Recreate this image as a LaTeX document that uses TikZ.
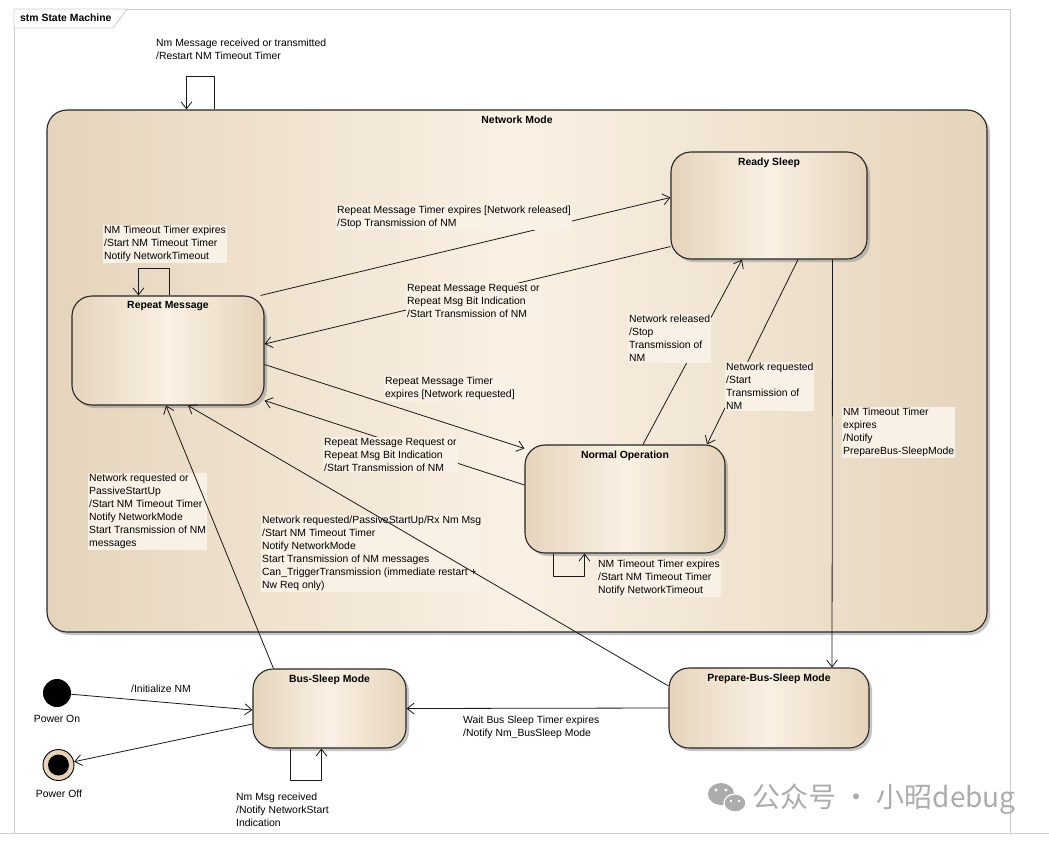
\documentclass[tikz,border=0pt]{standalone}
\usepackage{fontspec}
\setmainfont{Liberation Sans}
\newfontfamily\cjkfont{Noto Sans CJK SC}
\usetikzlibrary{arrows.meta,calc,shadows}

\definecolor{stEdge}{RGB}{229,212,187}
\definecolor{stMid}{RGB}{250,241,228}
\definecolor{lblBg}{RGB}{250,241,230}
\definecolor{frameGray}{RGB}{205,205,205}
\definecolor{wmGray}{RGB}{172,172,172}

\tikzset{
  smstate/.style={rounded corners=20pt, draw=black!85, line width=1.1pt,
    left color=stEdge, right color=stEdge, middle color=stMid,
    drop shadow={shadow xshift=3pt, shadow yshift=-3pt, fill=black!45, opacity=.5}},
  title/.style={font=\fontsize{10.4}{12}\selectfont\bfseries, inner sep=1pt},
  trans/.style={line width=0.8pt, draw=black!90,
    -{Straight Barb[length=7pt,width=11pt,line width=0.8pt]}},
  lbl/.style={anchor=north west, align=left, inner sep=1pt,
    font=\fontsize{10.4}{13}\selectfont},
  lblf/.style={lbl, fill=lblBg},
}

\begin{document}
\begin{tikzpicture}[x=1pt, y=-1pt, line join=round]
    \useasboundingbox (0,0) rectangle (1049,841);
    \fill[white] (0,0) rectangle (1049,841);

    % 外框
    \draw[frameGray, line width=0.8pt] (14,833) -- (14,9) -- (1010,9) -- (1010,833);
    \draw[frameGray, line width=0.8pt] (0,833) -- (1049,833);
    \draw[frameGray, line width=0.8pt, fill=white] (14,9) -- (127,9) -- (113,28) -- (14,28) -- cycle;
    \node[title, anchor=west] (frm) at (19,18) {stm State Machine};

    % 状态
    \node[smstate, minimum width=940pt, minimum height=522pt,
      label={[title, anchor=north, yshift=-5pt]north:Network Mode}] (nm) at (517,371) {};
    \node[smstate, minimum width=196pt, minimum height=107pt,
      label={[title, anchor=north, yshift=-5pt]north:Ready Sleep}] (rs) at (769,205.5) {};
    \node[smstate, minimum width=192pt, minimum height=109pt,
      label={[title, anchor=north, yshift=-5pt]north:Repeat Message}] (rm) at (168,350.5) {};
    \node[smstate, minimum width=200pt, minimum height=108pt,
      label={[title, anchor=north, yshift=-5pt]north:Normal Operation}] (no) at (625,499) {};
    \node[smstate, minimum width=153pt, minimum height=79pt,
      label={[title, anchor=north, yshift=-5pt]north:Bus-Sleep Mode}] (bsm) at (329.5,708.5) {};
    \node[smstate, minimum width=200pt, minimum height=80pt,
      label={[title, anchor=north, yshift=-5pt]north:Prepare-Bus-Sleep Mode}] (pbsm) at (769,708) {};

    % 初始 / 终止
    \node[circle, fill=black, minimum size=28pt, inner sep=0pt] (pon) at (57,693) {};
    \node[circle, draw=black, line width=0.9pt, fill=stEdge, minimum size=31pt, inner sep=0pt] (poff) at (58.5,765) {};
    \fill[black] (poff) circle (10.5pt);
    \node[font=\fontsize{10.4}{12}\selectfont, inner sep=1pt] (pontxt) at (57,719) {Power On};
    \node[font=\fontsize{10.4}{12}\selectfont, inner sep=1pt] (pofftxt) at (59,794) {Power Off};

    % 被线穿过的标签
    \node[lblf] (l11) at (261,515) {Network requested/PassiveStartUp/Rx Nm Msg\\/Start NM Timeout Timer\\Notify NetworkMode\\Start Transmission of NM messages\\Can\_TriggerTransmission (immediate restart +\\Nw Req only)};
    \node[lblf] (l12) at (88,473) {Network requested or\\PassiveStartUp\\/Start NM Timeout Timer\\Notify NetworkMode\\Start Transmission of NM\\messages};

    % 迁移
    \draw[trans] ($(nm.north west)+(168,0)$) -- ++(0,-33) -| ($(nm.north west)+(140,0)$);
    \draw[trans] ($(rm.north west)+(98,0)$) -- ++(0,-27) -| ($(rm.north west)+(67,0)$);
    \draw[trans] ($(rm.north east)+(-4,0)$) -- ($(rs.west)+(0,-8)$);
    \draw[trans] ($(rs.south west)+(0,-13)$) -- ($(rm.east)+(0,-6.5)$);
    \draw[trans] ($(rm.east)+(0,14)$) -- ($(no.north west)+(0,4)$);
    \draw[trans] ($(no.west)+(0,-14)$) -- ($(rm.south east)+(0,-5)$);
    \draw[trans] ($(no.north)+(18,0)$) -- ($(rs.south)+(-27,0)$);
    \draw[trans] ($(rs.south)+(29,0)$) -- ($(no.north)+(82,0)$);
    \draw[trans] ($(no.south west)+(29,0)$) -- ++(0,23) -| ($(no.south west)+(60,0)$);
    \draw[trans] ($(rs.south east)+(-35,0)$) -- ($(pbsm.north)+(63,0)$);
    \draw[trans] ($(pbsm.west)+(0,-22)$) -- ($(rm.south)+(20,0)$);
    \draw[trans] ($(bsm.north west)+(21,0)$) -- ($(rm.south)+(-2,0)$);
    \draw[trans] (pon) -- ($(bsm.west)+(0,1.5)$);
    \draw[trans] ($(bsm.west)+(0,15.5)$) -- (poff);
    \draw[trans] ($(bsm.south west)+(38,0)$) -- ++(0,32) -| ($(bsm.south west)+(69,0)$);
    \draw[trans] (pbsm.west) -- (bsm.east);

    % 标签
    \node[lbl] (l1) at (155,38) {Nm Message received or transmitted\\/Restart NM Timeout Timer};
    \node[lblf] (l2) at (103,225) {NM Timeout Timer expires\\/Start NM Timeout Timer\\Notify NetworkTimeout};
    \node[lblf] (l3) at (336,205) {Repeat Message Timer expires [Network released]\\/Stop Transmission of NM};
    \node[lblf] (l4) at (406,283) {Repeat Message Request or\\Repeat Msg Bit Indication\\/Start Transmission of NM};
    \node[lblf] (l5) at (384,376) {Repeat Message Timer\\expires [Network requested]};
    \node[lblf] (l6) at (323,437) {Repeat Message Request or\\Repeat Msg Bit Indication\\/Start Transmission of NM};
    \node[lblf] (l7) at (628,314) {Network released\\/Stop\\Transmission of\\NM};
    \node[lblf] (l8) at (725,362) {Network requested\\/Start\\Transmission of\\NM};
    \node[lblf] (l9) at (597,559) {NM Timeout Timer expires\\/Start NM Timeout Timer\\Notify NetworkTimeout};
    \node[lblf] (l10) at (842,407) {NM Timeout Timer\\expires\\/Notify\\PrepareBus-SleepMode};
    \node[lbl] (l13) at (130,684) {/Initialize NM};
    \node[lbl] (l14) at (235,792) {Nm Msg received\\/Notify NetworkStart\\Indication};
    \node[lbl] (l15) at (462,715) {Wait Bus Sleep Timer expires\\/Notify Nm\_BusSleep Mode};

    % 水印
    \fill[wmGray] (721,794) ellipse (13pt and 11pt);
    \fill[wmGray, draw=white, line width=1.2pt] (735,803) ellipse (11pt and 9pt);
    \fill[white] (716,790) circle (1.6pt) (726,790) circle (1.6pt)
                 (731,801) circle (1.3pt) (739,801) circle (1.3pt);
    \node[anchor=west, inner sep=0pt, text=wmGray, font=\cjkfont\fontsize{28}{30}\selectfont] (wm) at (752,799) {公众号 · 小昭debug};
\end{tikzpicture}
\end{document}
